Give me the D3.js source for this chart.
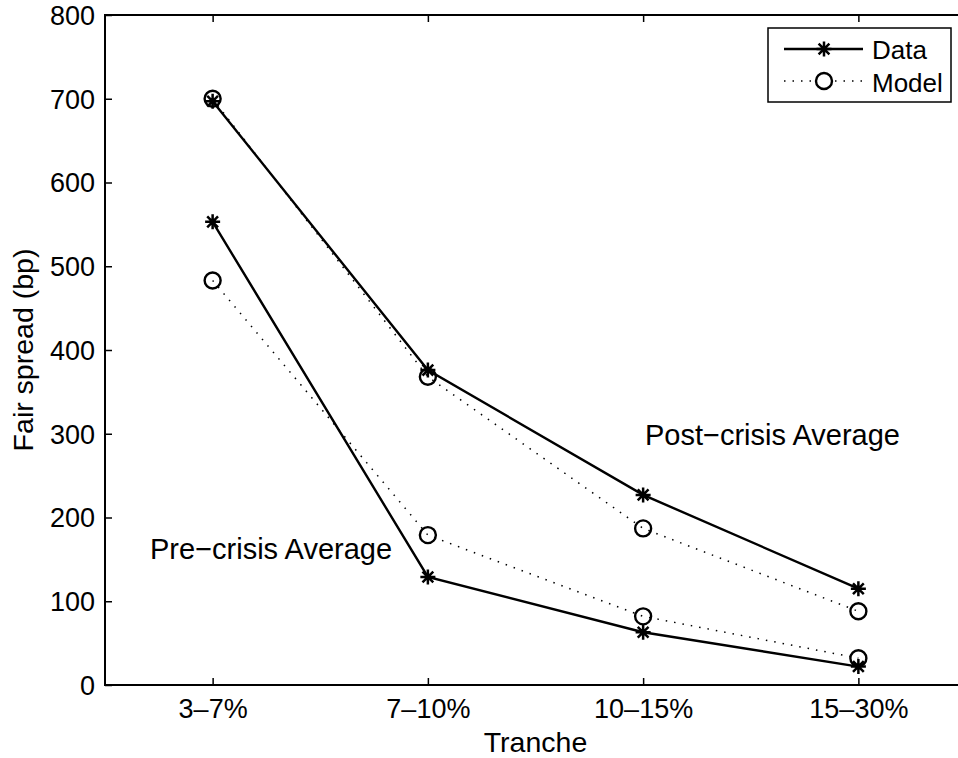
<!DOCTYPE html>
<html lang="en">
  <head>
    <meta charset="UTF-8" />
    <title>Fair spread by tranche</title>
    <style>
      html, body { margin: 0; padding: 0; overflow: hidden; background: #fff; }
      svg { display: block; }
      text { font-family: "Liberation Sans", Arial, Helvetica, sans-serif; fill: #000; }
    </style>
  </head>
  <body>
    <svg width="958" height="758"></svg>
    <script src="https://cdn.jsdelivr.net/npm/d3@7"></script>
    <script>
      var tranches = ["3\u20137%", "7\u201310%", "10\u201315%", "15\u201330%"];
      var postData = [697, 376, 227, 115];
      var postModel = [700, 368, 187, 88];
      var preData = [553, 129, 63, 22];
      var preModel = [483, 179, 82, 32];
      var yTicks = [0, 100, 200, 300, 400, 500, 600, 700, 800];

      var svg = d3.select("svg");
      var pLeft = 105, pRight = 966, pTop = 15, pBottom = 685;

      var x = d3.scaleLinear().domain([0.5, 4.5]).range([pLeft, pRight]);
      var y = d3.scaleLinear().domain([0, 800]).range([pBottom, pTop]);

      // frame: the right side of the box falls outside the picture
      var frame = svg.append("g").attr("stroke", "#000").attr("stroke-width", 2);
      frame.append("line").attr("x1", pLeft).attr("x2", 958)
        .attr("y1", pTop).attr("y2", pTop);
      frame.append("line").attr("x1", pLeft).attr("x2", 958)
        .attr("y1", pBottom).attr("y2", pBottom);
      frame.append("line").attr("x1", pLeft).attr("x2", pLeft)
        .attr("y1", pTop - 1).attr("y2", pBottom + 1);

      var xIdx = d3.range(1, tranches.length + 1);

      var xAxis = svg.append("g")
        .attr("transform", "translate(0," + pBottom + ")")
        .call(d3.axisBottom(x).tickValues(xIdx)
          .tickFormat(function (d) { return tranches[d - 1]; })
          .tickSizeInner(-7).tickSizeOuter(0));
      xAxis.select(".domain").remove();
      xAxis.selectAll("line").attr("stroke-width", 1.5);
      xAxis.selectAll("text").attr("y", 33).attr("dy", 0)
        .style("font-size", "27px");

      var xTop = svg.append("g")
        .attr("transform", "translate(0," + pTop + ")")
        .call(d3.axisTop(x).tickValues(xIdx).tickFormat("")
          .tickSizeInner(-7).tickSizeOuter(0));
      xTop.select(".domain").remove();
      xTop.selectAll("line").attr("stroke-width", 1.5);

      var yAxis = svg.append("g")
        .attr("transform", "translate(" + pLeft + ",0)")
        .call(d3.axisLeft(y).tickValues(yTicks)
          .tickSizeInner(-7).tickSizeOuter(0));
      yAxis.select(".domain").remove();
      yAxis.selectAll("line").attr("stroke-width", 1.5);
      yAxis.selectAll("text").attr("x", -10).attr("dy", "0.35em")
        .style("font-size", "27px");

      // axis titles
      svg.append("text")
        .attr("x", (pLeft + pRight) / 2).attr("y", 752)
        .attr("text-anchor", "middle").style("font-size", "28.5px")
        .text("Tranche");
      svg.append("text")
        .attr("transform", "translate(33," + (pTop + pBottom) / 2 + ") rotate(-90)")
        .attr("text-anchor", "middle").style("font-size", "28.5px")
        .text("Fair spread (bp)");

      var line = d3.line()
        .x(function (d, i) { return x(i + 1); })
        .y(function (d) { return y(d); });

      var starPath = function (s) {
        var d = s * 0.72;
        return "M0," + (-s) + "V" + s + "M" + (-s) + ",0H" + s +
          "M" + (-d) + "," + (-d) + "L" + d + "," + d +
          "M" + (-d) + "," + d + "L" + d + "," + (-d);
      };

      function drawModel(vals) {
        svg.append("path").datum(vals)
          .attr("d", line).attr("fill", "none").attr("stroke", "#000")
          .attr("stroke-width", 1.5).attr("stroke-dasharray", "1.5,7");
        svg.append("g").selectAll("circle").data(vals).enter()
          .append("circle")
          .attr("cx", function (d, i) { return x(i + 1); })
          .attr("cy", function (d) { return y(d); })
          .attr("r", 8).attr("fill", "none")
          .attr("stroke", "#000").attr("stroke-width", 2.4);
      }

      function drawData(vals) {
        svg.append("path").datum(vals)
          .attr("d", line).attr("fill", "none").attr("stroke", "#000")
          .attr("stroke-width", 2.4);
        svg.append("g").selectAll("path").data(vals).enter()
          .append("path")
          .attr("transform", function (d, i) {
            return "translate(" + x(i + 1) + "," + y(d) + ")";
          })
          .attr("d", starPath(7.5)).attr("fill", "none")
          .attr("stroke", "#000").attr("stroke-width", 2.5);
      }

      drawModel(postModel);
      drawModel(preModel);
      drawData(postData);
      drawData(preData);

      // annotations
      svg.append("text").attr("x", 645).attr("y", 445)
        .style("font-size", "29px").text("Post\u2212crisis Average");
      svg.append("text").attr("x", 150).attr("y", 559)
        .style("font-size", "29px").text("Pre\u2212crisis Average");

      // legend
      var lg = svg.append("g");
      lg.append("rect")
        .attr("x", 768).attr("y", 28).attr("width", 183).attr("height", 74)
        .attr("fill", "#fff").attr("stroke", "#000").attr("stroke-width", 1.5);
      lg.append("line")
        .attr("x1", 784).attr("x2", 863).attr("y1", 49).attr("y2", 49)
        .attr("stroke", "#000").attr("stroke-width", 2.4);
      lg.append("path")
        .attr("transform", "translate(824,49)")
        .attr("d", starPath(7.5)).attr("fill", "none")
        .attr("stroke", "#000").attr("stroke-width", 2.5);
      lg.append("line")
        .attr("x1", 784).attr("x2", 863).attr("y1", 81).attr("y2", 81)
        .attr("stroke", "#000").attr("stroke-width", 1.5)
        .attr("stroke-dasharray", "1.5,7");
      lg.append("circle")
        .attr("cx", 824).attr("cy", 81).attr("r", 8)
        .attr("fill", "#fff").attr("stroke", "#000").attr("stroke-width", 2.4);
      lg.append("text").attr("x", 872).attr("y", 59)
        .style("font-size", "26px").text("Data");
      lg.append("text").attr("x", 872).attr("y", 92)
        .style("font-size", "26px").text("Model");
    </script>
  </body>
</html>
